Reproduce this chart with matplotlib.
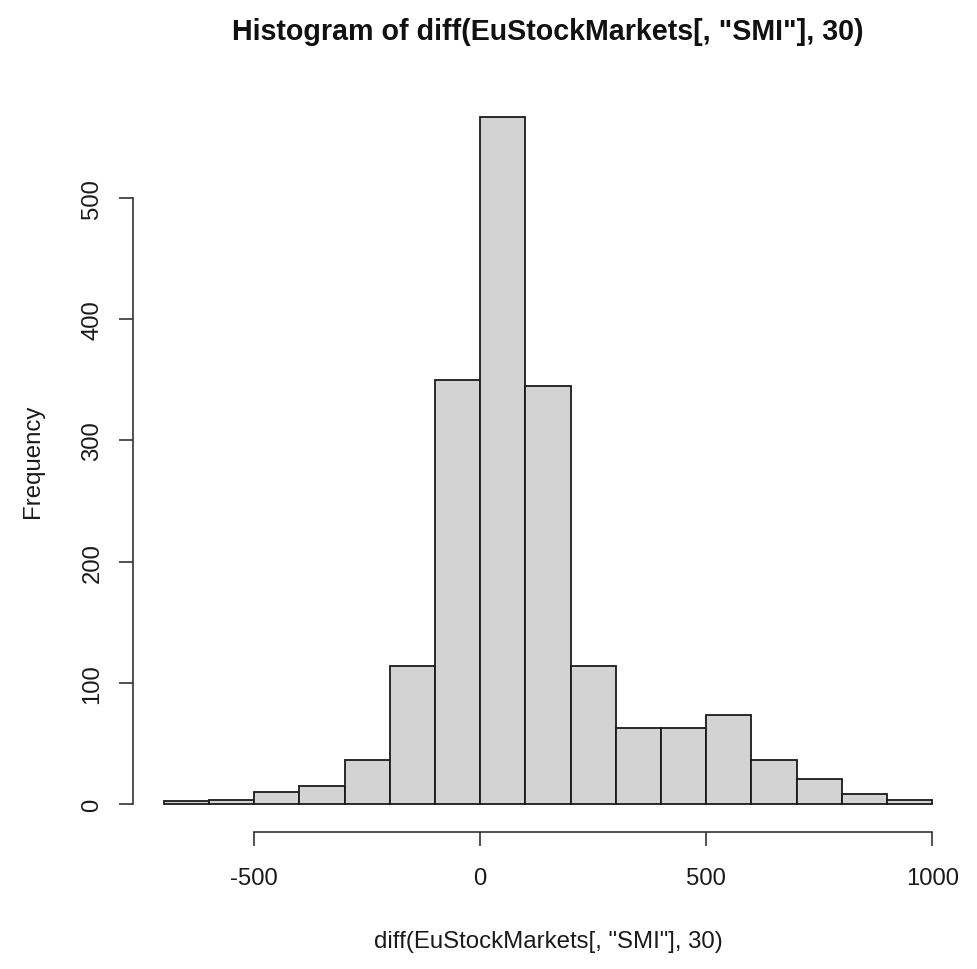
import numpy as np
import matplotlib
matplotlib.use("Agg")
import matplotlib.pyplot as plt

# bin edges and counts
bin_edges = [-700, -600, -500, -400, -300, -200, -100, 0, 100, 200,
             300, 400, 500, 600, 700, 800, 900, 1000]
counts = [3, 4, 10, 15, 37, 114, 350, 567, 345, 114, 63, 63, 74, 37, 21, 9, 4]
x_ticks = [-500, 0, 500, 1000]
y_ticks = [0, 100, 200, 300, 400, 500]

TITLE = 'Histogram of diff(EuStockMarkets[, "SMI"], 30)'
XLABEL = 'diff(EuStockMarkets[, "SMI"], 30)'
YLABEL = "Frequency"

plt.rcParams["font.family"] = ["Liberation Sans", "DejaVu Sans"]

W, H = 978, 970
fig = plt.figure(figsize=(W / 100, H / 100), dpi=100)

# plot region in pixels (R-style, 4% extension on both axes)
left, right, top, bottom = 133, 963, 90, 833
ax = fig.add_axes([left / W, 1 - bottom / H, (right - left) / W, (bottom - top) / H])

edges = np.array(bin_edges)
ax.bar(edges[:-1], counts, width=np.diff(edges), align="edge",
       color="#d3d3d3", edgecolor="#1a1a1a", linewidth=1.3)

xr = edges[-1] - edges[0]
ax.set_xlim(edges[0] - 0.04 * xr, edges[-1] + 0.04 * xr)
ymax = max(counts)
ax.set_ylim(-0.04 * ymax, ymax * 1.04)

for s in ["top", "right"]:
    ax.spines[s].set_visible(False)
ax.spines["left"].set_bounds(y_ticks[0], y_ticks[-1])
ax.spines["bottom"].set_bounds(x_ticks[0], x_ticks[-1])
for s in ["left", "bottom"]:
    ax.spines[s].set_color("#333333")
    ax.spines[s].set_linewidth(1.2)

ax.set_xticks(x_ticks)
ax.set_yticks(y_ticks)
ax.set_xticklabels([str(v) for v in x_ticks])
ax.set_yticklabels([str(v) for v in y_ticks], rotation=90, va="center")
ax.tick_params(axis="both", length=10, width=1.2, color="#333333",
               labelsize=17.2, labelcolor="#1a1a1a")
ax.tick_params(axis="x", pad=15)
ax.tick_params(axis="y", pad=11.3)

fig.text((left + right) / 2 / W, 1 - 40 / H, TITLE, ha="center", va="baseline",
         fontsize=20.6, fontweight="bold", color="#111111")
fig.text((left + right) / 2 / W, 1 - 948 / H, XLABEL, ha="center", va="baseline",
         fontsize=17.3, color="#1a1a1a")
fig.text(33 / W, 1 - 461 / H, YLABEL, ha="center", va="center", rotation=90,
         fontsize=17.3, color="#1a1a1a")

fig.savefig("out.png", dpi=100)
